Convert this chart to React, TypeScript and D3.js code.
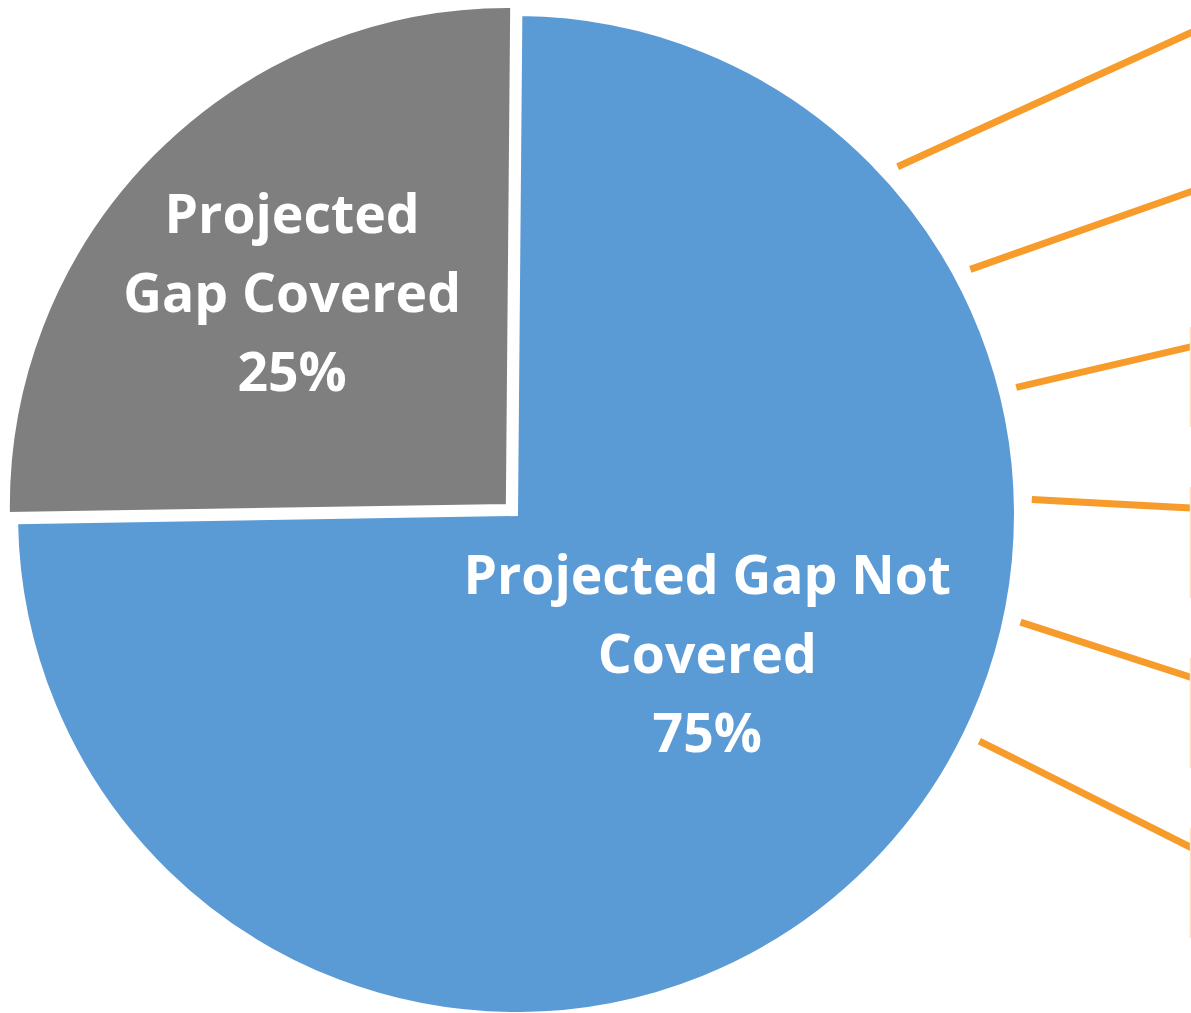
import React from "react";
import * as d3 from "d3";

// ---- data ----
const categories = ["Projected Gap Not Covered", "Projected Gap Covered"];
const values = [74.6, 25.4];
const labelLines = [
  ["Projected Gap Not", "Covered"],
  ["Projected", "Gap Covered"],
];
const sliceColors = ["#5B9BD5", "#7F7F7F"];
const explode = [0, 11.5];
// label anchor (angle in degrees clockwise from 12 o'clock, distance from slice centre)
const labelAngles = [126.2, 314.6];
const labelRadii = [237, 303];

// callout leader lines (to an off-frame breakdown)
const calloutAngles = [47.7, 61.7, 75.8, 88.4, 102.1, 116.1];
const calloutEndY = [33, 192, 347, 508, 677, 847];
// faint edges of off-frame boxes
const boxTop = [327, 487, 658, 828];
const boxBottom = [427, 598, 768, 938];

const W = 1191;
const H = 1013;

export default function App() {
  const cx = 516;
  const cy = 514;
  const R = 500;
  const rotation = (0.5 * Math.PI) / 180;
  const pie = d3
    .pie<number>()
    .sort(null)
    .value((d) => d)
    .startAngle(rotation)
    .endAngle(rotation + 2 * Math.PI);
  const arcs = pie(values);
  const arc = d3.arc<d3.PieArcDatum<number>>().innerRadius(0).outerRadius(R);
  const total = d3.sum(values);
  const fmt = (v: number) => `${Math.round((v / total) * 100)}%`;
  const rad = (deg: number) => (deg * Math.PI) / 180;
  const lineGap = 79;
  const fontSize = 53.5;

  const offsets = arcs.map((a, i) => {
    const mid = (a.startAngle + a.endAngle) / 2;
    return [Math.sin(mid) * explode[i], -Math.cos(mid) * explode[i]];
  });

  return (
    <svg
      width={W}
      height={H}
      style={{ position: "absolute", left: 0, top: 0, background: "#fff" }}
    >
      <g transform={`translate(${cx},${cy})`}>
        {arcs.map((a, i) => (
          <path
            key={categories[i]}
            d={arc(a) || ""}
            transform={`translate(${offsets[i][0]},${offsets[i][1]})`}
            fill={sliceColors[i]}
            stroke="#fff"
            strokeWidth={4}
            strokeLinejoin="miter"
          />
        ))}
        {arcs.map((a, i) => {
          const ang = rad(labelAngles[i]);
          const lx = offsets[i][0] + Math.sin(ang) * labelRadii[i];
          const ly = offsets[i][1] - Math.cos(ang) * labelRadii[i];
          const lines = [...labelLines[i], fmt(values[i])];
          const firstBaseline = ly + 19 - lineGap;
          return (
            <text
              key={"l" + i}
              textAnchor="middle"
              fill="#fff"
              fontFamily="'Open Sans', sans-serif"
              fontWeight={700}
              fontSize={fontSize}
            >
              {lines.map((t, j) => (
                <tspan key={j} x={lx} y={firstBaseline + j * lineGap}>
                  {t}
                </tspan>
              ))}
            </text>
          );
        })}
      </g>
      {calloutAngles.map((deg, i) => {
        const ang = rad(deg);
        const r0 = 516;
        const x0 = cx + Math.sin(ang) * r0;
        const y0 = cy - Math.cos(ang) * r0;
        const x1 = 1190;
        const y1 = calloutEndY[i];
        const slope = (y1 - y0) / (x1 - x0);
        const x2 = W + 10;
        const y2 = y0 + slope * (x2 - x0);
        return (
          <line
            key={"c" + i}
            x1={x0}
            y1={y0}
            x2={x2}
            y2={y2}
            stroke="#F79B2A"
            strokeWidth={7}
          />
        );
      })}
      {boxTop.map((t, i) => (
        <line
          key={"b" + i}
          x1={1190.5}
          x2={1190.5}
          y1={t}
          y2={boxBottom[i]}
          stroke="#FCE3C6"
          strokeWidth={1.5}
        />
      ))}
    </svg>
  );
}
